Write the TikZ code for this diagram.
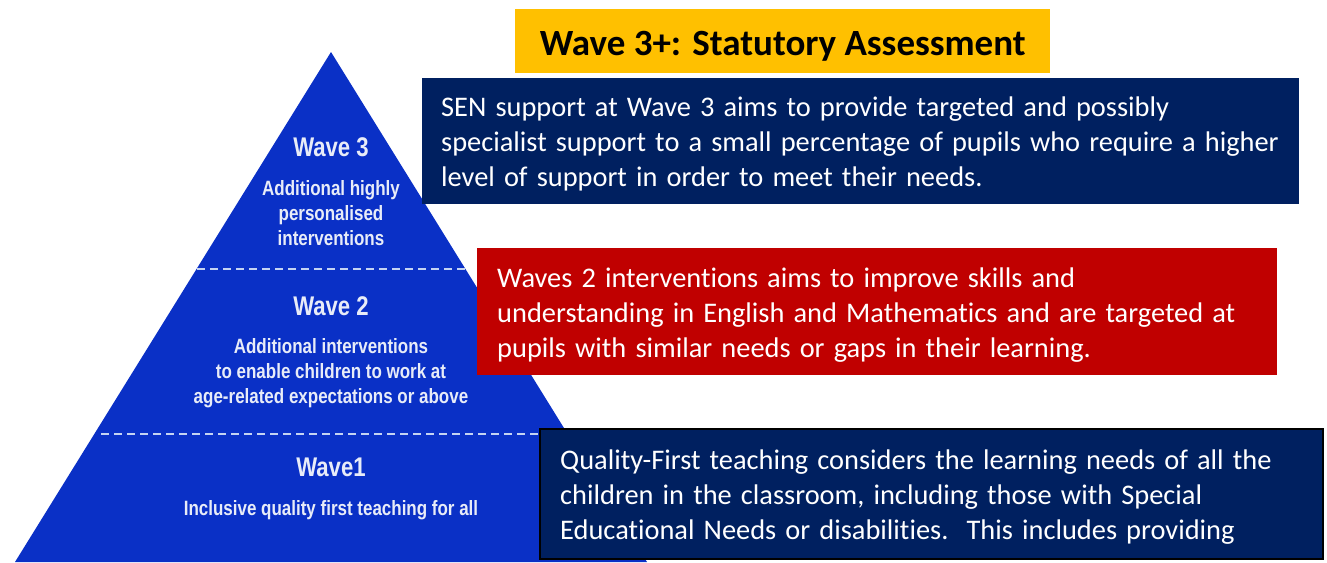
\documentclass[tikz,border=0pt]{standalone}
\usepackage{fontspec}
\setmainfont{Carlito}[Ligatures=NoCommon]
\newfontfamily\boxfont{Carlito}[Ligatures=NoCommon, WordSpace=1.42]
\newfontfamily\pyrfont[FakeStretch=0.82]{Liberation Sans}
\definecolor{pyrblue}{HTML}{0A30C6}
\definecolor{navy}{HTML}{002060}
\definecolor{wred}{HTML}{C00000}
\definecolor{gold}{HTML}{FFC000}
\definecolor{dashc}{HTML}{C5D3F2}
\definecolor{pyrtxt}{HTML}{E8ECF8}
\tikzset{
  pyrhead/.style={text=pyrtxt, font=\pyrfont\bfseries\fontsize{27}{30}\selectfont, inner sep=0pt},
  pyrbody/.style={text=pyrtxt, font=\pyrfont\bfseries\fontsize{20.7}{25}\selectfont, align=center, inner sep=0pt},
  waveline/.style={dashc, line width=2.5pt, dash pattern=on 8pt off 5pt},
  infobox/.style={anchor=north west, inner sep=0pt},
  infotext/.style={anchor=west, text=white, align=left, inner sep=0pt,
    font=\boxfont\fontsize{28.4}{35}\selectfont},
}
\begin{document}
\begin{tikzpicture}[x=1pt,y=-1pt]
\useasboundingbox (0,0) rectangle (1327,562);
% pyramid
\coordinate (apex) at (331,52);
\coordinate (bl) at (15,562);
\coordinate (br) at (647,562);
\fill[pyrblue] (apex) -- (br) -- (bl) -- cycle;
\coordinate (d1l) at (197,269);
\coordinate (d1r) at (468,269);
\coordinate (d2l) at (101,434);
\coordinate (d2r) at (566,434);
\draw[waveline] (d1l) -- (d1r);
\draw[waveline] (d2l) -- (d2r);
% pyramid text
\node[pyrhead] (w3) at (331,147) {Wave 3};
\node[pyrbody] (w3t) at (331,213) {Additional highly\\personalised\\interventions};
\node[pyrhead] (w2) at (331,306) {Wave 2};
\node[pyrbody] (w2t) at (331,373) {Additional interventions\\to enable children to work at\\age-related expectations or above};
\node[pyrhead] (w1) at (331,467) {Wave1};
\node[pyrbody] (w1t) at (331,510) {Inclusive quality first teaching for all};
% boxes
\node[anchor=north west, fill=gold, minimum width=535pt, minimum height=64pt, inner sep=0pt,
  text height=28pt, text depth=0pt,
  font=\bfseries\fontsize{37}{40}\selectfont] (title) at (515,9) {Wave 3+: Statutory Assessment};
\node[infobox, fill=navy, minimum width=877pt, minimum height=126pt] (sen) at (422,78) {};
\node[infotext] (sentext) at ([xshift=19pt, yshift=-3pt]sen.west)
  {SEN support at Wave 3 aims to provide targeted and possibly\\specialist support to a small percentage of pupils who require a higher\\level of support in order to meet their needs.};
\node[infobox, fill=wred, minimum width=800pt, minimum height=127pt] (red) at (477,248) {};
\node[infotext] (redtext) at ([xshift=20pt, yshift=-3pt]red.west)
  {Waves 2 interventions aims to improve skills and\\understanding in English and Mathematics and are targeted at\\pupils with similar needs or gaps in their learning.};
\node[infobox, fill=navy, draw=black, line width=2pt, minimum width=783pt, minimum height=130pt] (qft) at (539,428) {};
\node[infotext] (qfttext) at ([xshift=21pt, yshift=-3pt]qft.west)
  {Quality-First teaching considers the learning needs of all the\\children in the classroom, including those with Special\\Educational Needs or disabilities.\ \ This includes providing};
\end{tikzpicture}
\end{document}
